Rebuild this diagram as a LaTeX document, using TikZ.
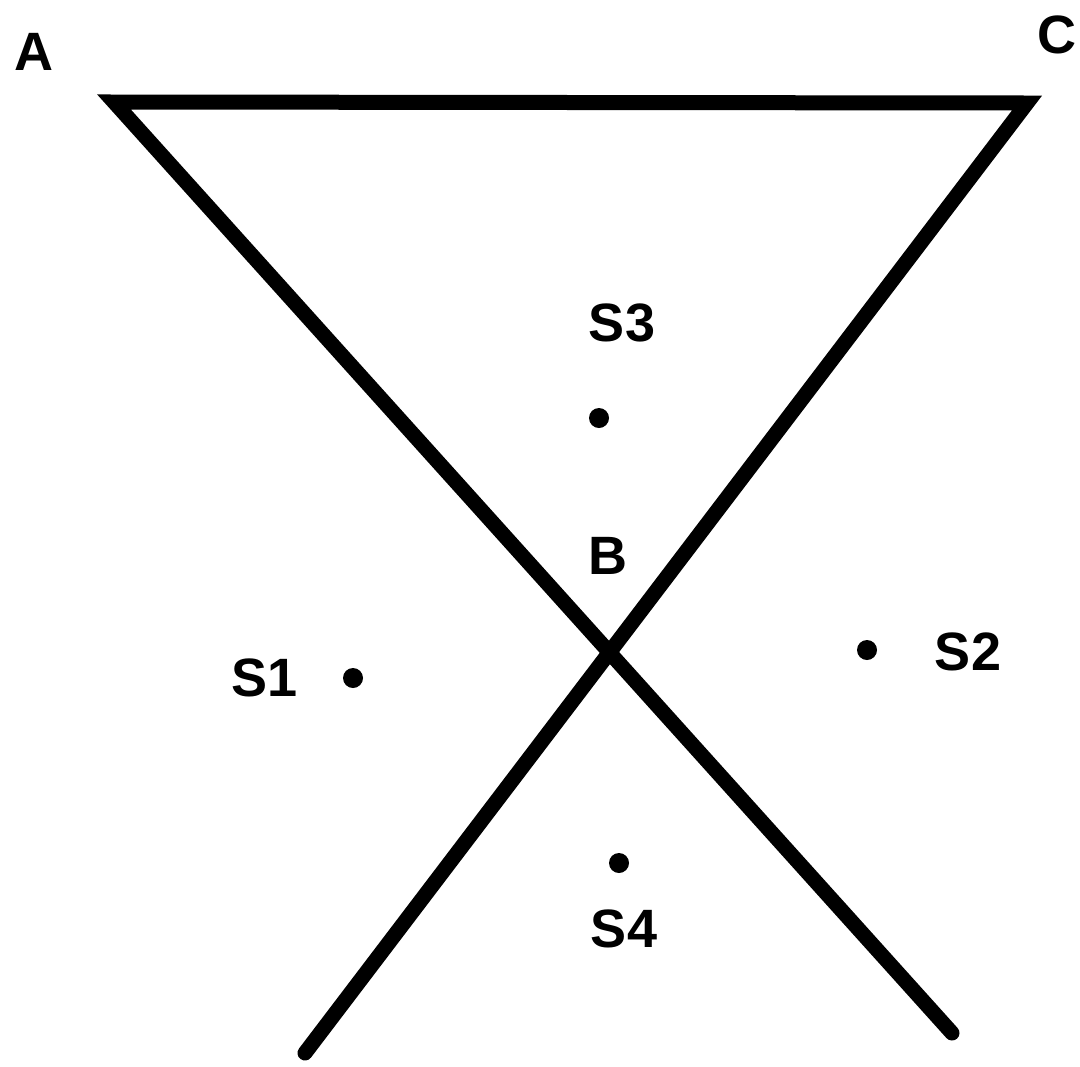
\documentclass[tikz,border=0pt]{standalone}
\usepackage{fontspec}
\setmainfont{Liberation Sans}
\begin{document}
\begin{tikzpicture}[x=0.5pt,y=-0.5pt,
  lbl/.style={inner sep=0pt, font=\fontsize{27}{32}\selectfont\bfseries},
  pt/.style={circle, fill=black, inner sep=0pt, minimum size=10pt},
  bold line/.style={line width=7.5pt, line join=miter, line cap=round}]
\useasboundingbox (0,0) rectangle (1080,1066);
\coordinate (A) at (114,102);
\coordinate (C) at (1027,103);
\coordinate (e1) at (952,1033);
\coordinate (e2) at (305,1053);
\draw[bold line] (e1) -- (A) -- (C) -- (e2);
\node[lbl] (lA) at (34,52) {A};
\node[lbl] (lC) at (1057,35) {C};
\node[lbl] (lB) at (608,556) {B};
\node[lbl] (lS3) at (622,323) {S3};
\node[lbl] (lS1) at (265,678) {S1};
\node[lbl] (lS2) at (968,652) {S2};
\node[lbl] (lS4) at (624,929) {S4};
\node[pt] (p3) at (599,418) {};
\node[pt] (p1) at (353,678) {};
\node[pt] (p2) at (867,650) {};
\node[pt] (p4) at (619,863) {};
\end{tikzpicture}
\end{document}
